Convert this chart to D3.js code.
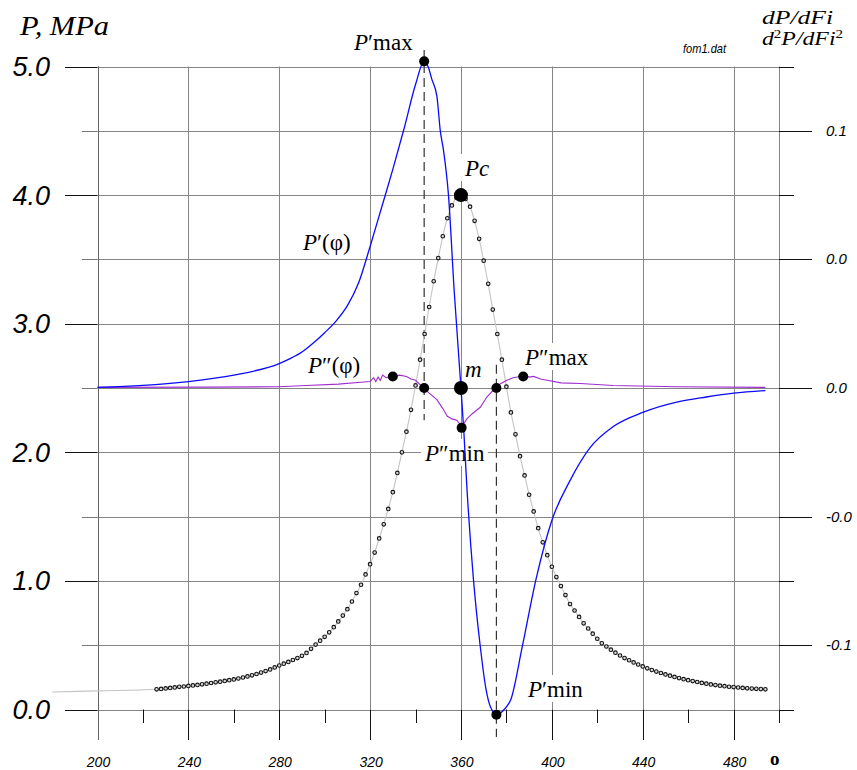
<!DOCTYPE html>
<html>
<head>
<meta charset="utf-8">
<script src="https://cdn.jsdelivr.net/npm/d3@7"></script>
<style>
  body { margin: 0; background: #fff; }
  svg { display: block; }
</style>
</head>
<body>
<div id="chart"></div>
<script>
var svgWidth = 857;
var svgHeight = 770;

// crank angle axis, pressure axis, derivative axis
var xTicks = [200, 240, 280, 320, 360, 400, 440, 480];
var xMinorTicks = [220, 260, 300, 340, 380, 420, 460, 500];
var yTicks = [0, 1, 2, 3, 4, 5];
var yTickLabels = ["0.0", "1.0", "2.0", "3.0", "4.0", "5.0"];
var yHalfTicks = [0.5, 1.5, 2.5, 3.5, 4.5];
var rightTicks = [0.1, 0.05, 0, -0.05, -0.1];
var rightTickLabels = ["0.1", "0.0", "0.0", "-0.0", "-0.1"];
var rightMinorTicks = [0.125, 0.075, 0.025, -0.025, -0.075, -0.125];

// pressure P(phi), MPa, one marker every 2 deg from 226 to 494
var pAngles = d3.range(226, 496, 2);
var pValues = [
  0.157, 0.160, 0.164, 0.168, 0.172, 0.176, 0.179, 0.183, 0.187, 0.191,
  0.196, 0.201, 0.206, 0.211, 0.216, 0.222, 0.228, 0.234, 0.241, 0.249,
  0.257, 0.266, 0.276, 0.287, 0.299, 0.312, 0.327, 0.342, 0.356, 0.370,
  0.385, 0.400, 0.417, 0.440, 0.472, 0.505, 0.535, 0.565, 0.600, 0.640,
  0.685, 0.730, 0.780, 0.840, 0.905, 0.970, 1.05, 1.13, 1.22, 1.33,
  1.44, 1.56, 1.69, 1.84, 2.00, 2.16, 2.33, 2.52, 2.72, 2.92,
  3.13, 3.33, 3.51, 3.68, 3.82, 3.92, 3.98, 4.00, 3.97, 3.91,
  3.80, 3.66, 3.49, 3.31, 3.11, 2.92, 2.72, 2.51, 2.31, 2.14,
  1.97, 1.82, 1.67, 1.54, 1.41, 1.30, 1.20, 1.11, 1.03, 0.96,
  0.89, 0.82, 0.77, 0.72, 0.67, 0.63, 0.59, 0.55, 0.515, 0.49,
  0.465, 0.442, 0.42, 0.40, 0.383, 0.366, 0.35, 0.335, 0.32, 0.307,
  0.295, 0.284, 0.273, 0.263, 0.253, 0.244, 0.236, 0.228, 0.221, 0.214,
  0.207, 0.201, 0.195, 0.19, 0.185, 0.181, 0.177, 0.174, 0.171, 0.168,
  0.165, 0.163, 0.161, 0.159, 0.157
];
// thin lead-in of the pressure line, no markers
var pLeadAngles = [180, 200, 226];
var pLeadValues = [0.136, 0.145, 0.157];

// dP/dFi (right axis)
var dpAngles = [200, 220, 240, 260, 280, 285, 290, 295, 300, 305, 310, 315, 320, 325, 330, 335, 340,
  343.8, 345.5, 347.2, 349.4, 350.9, 352.3, 354.5, 357, 360, 361.3, 362.6, 365.5, 368.5, 371, 373,
  376, 379, 382, 387, 393, 400, 408, 417, 427, 440, 455, 468, 480, 494];
var dpValues = [0.00025, 0.001, 0.0025, 0.005, 0.0095, 0.0115, 0.014, 0.0175, 0.0215, 0.026,
  0.032, 0.041, 0.055, 0.07, 0.085, 0.101, 0.118, 0.127, 0.125, 0.12, 0.1135, 0.1, 0.0925, 0.075,
  0.038, 0, -0.0175, -0.0385, -0.0745, -0.1005, -0.117, -0.124, -0.127, -0.125, -0.121, -0.1005,
  -0.0745, -0.0515, -0.036, -0.023, -0.015, -0.0095, -0.0055, -0.0035, -0.002, -0.001];

// d2P/dFi2 (right axis)
var d2pAngles = [200, 250, 280, 292, 306, 316, 320, 321.5, 322.5, 323.5, 324.5, 325.5, 327, 330,
  333, 336, 338, 340, 343.5, 346, 349.4, 352, 354, 356, 358.2, 360.4, 362.6, 365, 368.5, 371.4,
  373, 375.1, 377, 380.2, 383, 386.1, 388, 390, 392, 395, 398, 404, 412.6, 427, 455, 494];
var d2pValues = [0.00025, 0.00035, 0.0005, 0.001, 0.0015, 0.00225, 0.0025, 0.004, 0.0025,
  0.00425, 0.003, 0.005, 0.004, 0.0045, 0.005, 0.0045, 0.0035, 0.003, 0, -0.002, -0.0045,
  -0.008, -0.011, -0.012, -0.0125, -0.015, -0.012, -0.01, -0.0075, -0.0035, -0.002, 0, 0.0015,
  0.003, 0.004, 0.0045, 0.005, 0.00425, 0.0045, 0.0035, 0.003, 0.002, 0.00175, 0.001, 0.0005,
  0.00025];

// characteristic points
var pcPoint = [360, 4.0];
var derivPoints = [
  { a: 343.8, v: 0.127, r: 5 },     // P'max
  { a: 375.6, v: -0.127, r: 5 },    // P'min
  { a: 330, v: 0.0045, r: 5 },
  { a: 343.8, v: 0, r: 5 },
  { a: 360.3, v: -0.0155, r: 5 },   // P''min
  { a: 375.6, v: 0, r: 5 },
  { a: 387.4, v: 0.0045, r: 5 },    // P''max
  { a: 360, v: 0, r: 7 }            // m
];

var svg = d3.select("#chart").append("svg")
  .attr("width", svgWidth)
  .attr("height", svgHeight);

svg.append("rect").attr("width", svgWidth).attr("height", svgHeight).attr("fill", "#fff");

var x = d3.scaleLinear().domain([200, 500]).range([97.5, 779]);
var y = d3.scaleLinear().domain([0, 5]).range([709.5, 66.5]);
var yR = d3.scaleLinear().domain([-0.125, 0.125]).range([709.5, 66.5]);

var sans = "'Liberation Sans', Arial, sans-serif";
var serif = "'Liberation Serif', 'Times New Roman', serif";

// grid
var grid = svg.append("g").attr("stroke", "#858585").attr("stroke-width", 1);
yHalfTicks.concat(yTicks).forEach(function (v) {
  grid.append("line")
    .attr("x1", x(200)).attr("x2", x(500))
    .attr("y1", Math.round(y(v)) + 0.5).attr("y2", Math.round(y(v)) + 0.5);
});
xTicks.concat([500]).forEach(function (v) {
  grid.append("line")
    .attr("x1", Math.round(x(v)) + 0.5).attr("x2", Math.round(x(v)) + 0.5)
    .attr("y1", y(5)).attr("y2", y(0));
});

// ticks
var ticks = svg.append("g").attr("stroke", "#111").attr("stroke-width", 1);
yTicks.forEach(function (v) {
  ticks.append("line").attr("x1", 65).attr("x2", x(200))
    .attr("y1", Math.round(y(v)) + 0.5).attr("y2", Math.round(y(v)) + 0.5);
});
yHalfTicks.forEach(function (v) {
  ticks.append("line").attr("x1", 82).attr("x2", x(200))
    .attr("y1", Math.round(y(v)) + 0.5).attr("y2", Math.round(y(v)) + 0.5).attr("stroke", "#777");
});
rightTicks.forEach(function (v) {
  ticks.append("line").attr("x1", x(500)).attr("x2", 812)
    .attr("y1", Math.round(yR(v)) + 0.5).attr("y2", Math.round(yR(v)) + 0.5);
});
rightMinorTicks.forEach(function (v) {
  ticks.append("line").attr("x1", x(500)).attr("x2", 794)
    .attr("y1", Math.round(yR(v)) + 0.5).attr("y2", Math.round(yR(v)) + 0.5);
});
xTicks.forEach(function (v) {
  ticks.append("line").attr("x1", Math.round(x(v)) + 0.5).attr("x2", Math.round(x(v)) + 0.5)
    .attr("y1", y(0)).attr("y2", 740);
});
xMinorTicks.forEach(function (v) {
  ticks.append("line").attr("x1", Math.round(x(v)) + 0.5).attr("x2", Math.round(x(v)) + 0.5)
    .attr("y1", y(0)).attr("y2", 723);
});
ticks.append("line").attr("x1", Math.round(x(200)) + 0.5).attr("x2", Math.round(x(200)) + 0.5)
  .attr("y1", y(5)).attr("y2", 740).attr("stroke", "#666");

// tick labels
svg.append("g").selectAll("text").data(yTicks).join("text")
  .attr("x", 50).attr("y", function (d) { return y(d) + 9.5; })
  .attr("text-anchor", "end")
  .attr("font-family", sans).attr("font-style", "italic").attr("font-size", 27)
  .text(function (d, i) { return yTickLabels[i]; });

svg.append("g").selectAll("text").data(xTicks).join("text")
  .attr("x", function (d) { return x(d) + 1; }).attr("y", 767)
  .attr("text-anchor", "middle")
  .attr("font-family", sans).attr("font-style", "italic").attr("font-size", 14)
  .text(function (d) { return d; });

svg.append("g").selectAll("text").data(rightTicks).join("text")
  .attr("x", 826).attr("y", function (d) { return yR(d) + 5; })
  .attr("font-family", sans).attr("font-style", "italic").attr("font-size", 15)
  .text(function (d, i) { return rightTickLabels[i]; });

svg.append("text").attr("x", 770).attr("y", 765)
  .attr("font-family", serif).attr("font-weight", "bold").attr("font-size", 19).text("o");

// titles
svg.append("text").attr("x", 20).attr("y", 35)
  .attr("font-family", serif).attr("font-style", "italic").attr("font-size", 27)
  .attr("textLength", 89).attr("lengthAdjust", "spacingAndGlyphs")
  .text("P, MPa");
svg.append("text").attr("x", 683).attr("y", 53)
  .attr("font-family", sans).attr("font-style", "italic").attr("font-size", 13.5)
  .attr("textLength", 43).attr("lengthAdjust", "spacingAndGlyphs")
  .text("fom1.dat");
svg.append("text").attr("x", 762).attr("y", 24)
  .attr("font-family", serif).attr("font-style", "italic").attr("font-size", 19)
  .attr("textLength", 71).attr("lengthAdjust", "spacingAndGlyphs")
  .text("dP/dFi");
var t2 = svg.append("text").attr("x", 762).attr("y", 45)
  .attr("font-family", serif).attr("font-style", "italic").attr("font-size", 19)
  .attr("textLength", 81).attr("lengthAdjust", "spacingAndGlyphs");
t2.append("tspan").text("d");
t2.append("tspan").attr("font-size", 12).attr("dy", -7).attr("font-style", "normal").text("2");
t2.append("tspan").attr("dy", 7).text("P/dFi");
t2.append("tspan").attr("font-size", 12).attr("dy", -7).attr("font-style", "normal").text("2");

// label boxes (hide grid behind labels)
var labels = [
  { x: 354, y: 50, parts: [["P", true], ["\u2032max", false]] },
  { x: 465, y: 176, parts: [["Pc", true]] },
  { x: 303, y: 250, parts: [["P", true], ["\u2032(\u03c6)", false]] },
  { x: 308, y: 373, parts: [["P", true], ["\u2033(\u03c6)", false]] },
  { x: 465, y: 377, parts: [["m", true]] },
  { x: 525, y: 365, parts: [["P", true], ["\u2033max", false]] },
  { x: 425, y: 461, parts: [["P", true], ["\u2033min", false]] },
  { x: 528, y: 697, parts: [["P", true], ["\u2032min", false]] }
];
var boxG = svg.append("g");
var labelG = svg.append("g");

// dashed markers
var dash = svg.append("g").attr("stroke", "#333").attr("stroke-width", 1.2).attr("stroke-dasharray", "9,5");
dash.append("line").attr("x1", x(343.8)).attr("x2", x(343.8)).attr("y1", 50).attr("y2", y(2.25));
dash.append("line").attr("x1", x(375.6)).attr("x2", x(375.6)).attr("y1", y(2.68)).attr("y2", 737);

// pressure curve
var pData = pAngles.map(function (a, i) { return [a, pValues[i]]; });
var leadData = pLeadAngles.map(function (a, i) { return [a, pLeadValues[i]]; });
var pLine = d3.line().x(function (d) { return x(d[0]); }).y(function (d) { return y(d[1]); })
  .curve(d3.curveMonotoneX);
svg.append("path").datum(leadData.concat(pData.slice(1)))
  .attr("d", pLine).attr("fill", "none").attr("stroke", "#c4c4c4").attr("stroke-width", 1.1);
svg.append("g").selectAll("circle").data(pData).join("circle")
  .attr("cx", function (d) { return x(d[0]); })
  .attr("cy", function (d) { return y(d[1]); })
  .attr("r", 1.8).attr("fill", "#d8d8d8").attr("stroke", "#111").attr("stroke-width", 1.1);

// derivatives
var rLine = d3.line().x(function (d) { return x(d[0]); }).y(function (d) { return yR(d[1]); });
svg.append("path").datum(d2pAngles.map(function (a, i) { return [a, d2pValues[i]]; }))
  .attr("d", rLine).attr("fill", "none").attr("stroke", "#a02cd0").attr("stroke-width", 1.1);
svg.append("path").datum(dpAngles.map(function (a, i) { return [a, dpValues[i]]; }))
  .attr("d", rLine.curve(d3.curveMonotoneX)).attr("fill", "none").attr("stroke", "#0a0aff").attr("stroke-width", 1.3);

// points
svg.append("g").selectAll("circle").data(derivPoints).join("circle")
  .attr("cx", function (d) { return x(d.a); })
  .attr("cy", function (d) { return yR(d.v); })
  .attr("r", function (d) { return d.r; }).attr("fill", "#000");
svg.append("circle").attr("cx", x(pcPoint[0])).attr("cy", y(pcPoint[1])).attr("r", 7).attr("fill", "#000");

// labels
labels.forEach(function (l) {
  var t = labelG.append("text").attr("x", l.x).attr("y", l.y)
    .attr("font-family", serif).attr("font-size", 23);
  l.parts.forEach(function (p) {
    t.append("tspan").attr("font-style", p[1] ? "italic" : "normal").text(p[0]);
  });
  var bb = t.node().getBBox();
  boxG.append("rect").attr("x", bb.x - 3).attr("y", bb.y - 2)
    .attr("width", bb.width + 6).attr("height", bb.height + 2).attr("fill", "#fff");
});
</script>
</body>
</html>
